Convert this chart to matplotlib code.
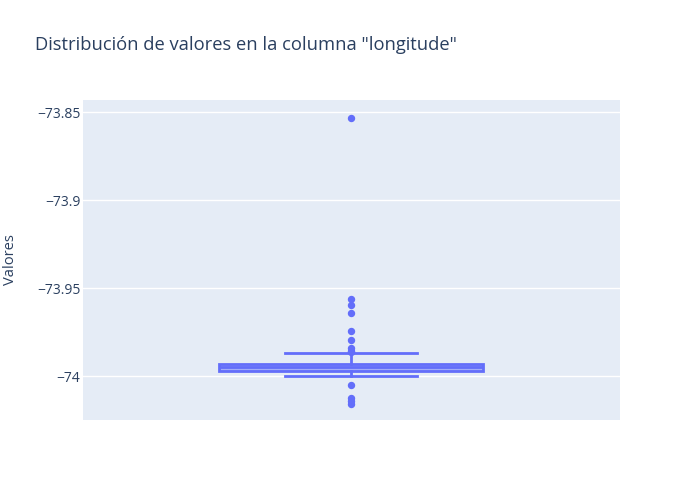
import matplotlib.pyplot as plt
from matplotlib.ticker import FuncFormatter

# box statistics
q1 = -73.9969
median = -73.9949
q3 = -73.9929
whisker_low = -74.0000
whisker_high = -73.9868
outliers = [-73.8530, -73.9564, -73.9597, -73.9640, -73.9746, -73.9797,
            -73.9843, -73.9858, -73.9864, -74.0049, -74.0125, -74.0142, -74.0159]

yticks = [-74.0, -73.95, -73.9, -73.85]

blue = '#636efa'
text_col = '#2a3f5f'

plt.rcParams['font.family'] = ['Open Sans', 'DejaVu Sans']

fig = plt.figure(figsize=(7, 5), dpi=100)
ax = fig.add_axes([83 / 700, 80 / 500, 537 / 700, 320 / 500])
ax.set_facecolor('#e5ecf6')

stats = [{'med': median, 'q1': q1, 'q3': q3,
          'whislo': whisker_low, 'whishi': whisker_high,
          'fliers': outliers, 'label': ''}]
ax.bxp(stats, positions=[-0.001], widths=0.49, patch_artist=True,
       showfliers=True,
       boxprops=dict(facecolor=(99 / 255, 110 / 255, 250 / 255, 0.5),
                     edgecolor=blue, linewidth=2),
       medianprops=dict(color=blue, linewidth=2),
       whiskerprops=dict(color=blue, linewidth=2),
       capprops=dict(color=blue, linewidth=2),
       flierprops=dict(marker='o', markerfacecolor=blue, markeredgecolor=blue,
                       markersize=4.3, alpha=1),
       capwidths=0.245, zorder=3)

ax.set_xlim(-0.5, 0.5)
ax.set_ylim(-74.025, -73.843)
ax.set_xticks([])
ax.set_yticks(yticks)
ax.yaxis.set_major_formatter(FuncFormatter(
    lambda v, p: ('%g' % round(v, 2)).replace('-', '\u2212')))
ax.tick_params(axis='y', length=0, pad=2, labelsize=10, labelcolor=text_col)
ax.grid(axis='y', color='white', linewidth=1)
ax.set_axisbelow(True)
for s in ax.spines.values():
    s.set_visible(False)

fig.text(11 / 700, 1 - 260 / 500, 'Valores', rotation=90, ha='center', va='center',
         fontsize=10.6, color=text_col)
fig.text(35 / 700, 1 - 45 / 500, 'Distribución de valores en la columna "longitude"',
         ha='left', va='center', fontsize=13.2, color=text_col)

fig.savefig('out.png', dpi=100)
